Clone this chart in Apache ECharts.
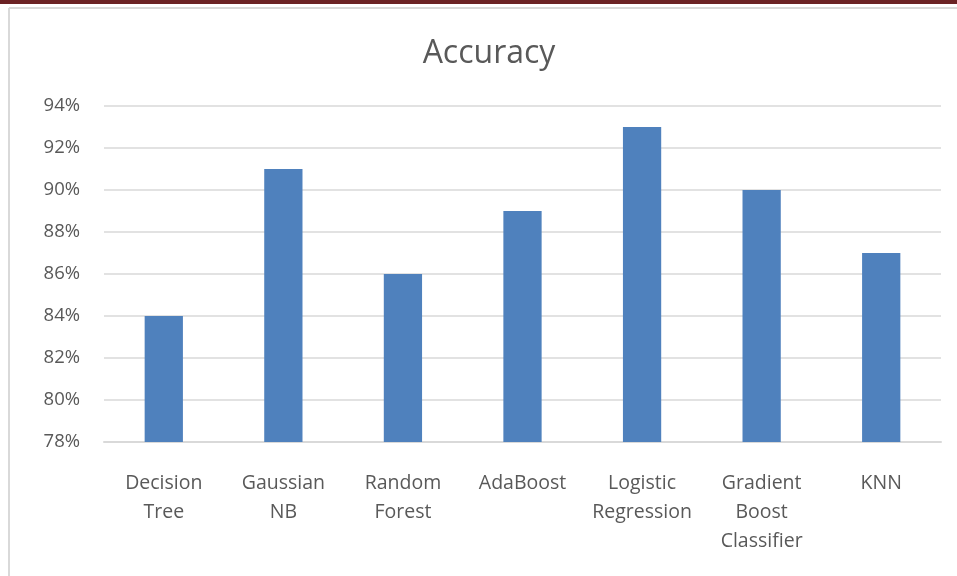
<!DOCTYPE html>
<html>
<head>
<meta charset="utf-8">
<script src="https://cdn.jsdelivr.net/npm/echarts@6/dist/echarts.min.js"></script>
<style>
html,body{margin:0;padding:0;background:#fff;}
#chart{width:957px;height:576px;}
</style>
</head>
<body>
<div id="chart"></div>
<script>
var categories = ['Decision\nTree', 'Gaussian\nNB', 'Random\nForest', 'AdaBoost', 'Logistic\nRegression', 'Gradient\nBoost\nClassifier', 'KNN'];
var accuracy = [84, 91, 86, 89, 93, 90, 87];
var chartTitle = 'Accuracy';
var yMin = 78, yMax = 94, yStep = 2;

var chart = echarts.init(document.getElementById('chart'));
chart.setOption({
  animation: false,
  backgroundColor: '#ffffff',
  graphic: [
    { type: 'rect', shape: { x: 0, y: 0, width: 957, height: 4 }, style: { fill: '#6b2224' }, silent: true },
    { type: 'line', shape: { x1: 9, y1: 8, x2: 957, y2: 8 }, style: { stroke: '#d9d9d9', lineWidth: 2 }, silent: true },
    { type: 'line', shape: { x1: 9, y1: 8, x2: 9, y2: 576 }, style: { stroke: '#d9d9d9', lineWidth: 2 }, silent: true }
  ],
  title: {
    text: chartTitle,
    left: 484,
    top: 33,
    textAlign: 'center',
    textStyle: { fontFamily: 'Open Sans', fontSize: 32, fontWeight: 'normal', color: '#595959' }
  },
  grid: { left: 104, right: 16, top: 106, bottom: 134, containLabel: false },
  xAxis: {
    type: 'category',
    data: categories,
    axisLine: { show: true, lineStyle: { color: '#d9d9d9', width: 2 } },
    axisTick: { show: false },
    axisLabel: {
      interval: 0,
      margin: 27,
      fontFamily: 'Open Sans',
      fontSize: 19.5,
      lineHeight: 29,
      color: '#595959'
    }
  },
  yAxis: {
    type: 'value',
    min: yMin,
    max: yMax,
    interval: yStep,
    axisLine: { show: false },
    axisTick: { show: false },
    splitLine: { lineStyle: { color: '#d9d9d9', width: 1.5 } },
    axisLabel: {
      margin: 24,
      fontFamily: 'Open Sans',
      fontSize: 18.5,
      color: '#595959',
      formatter: function (v) { return v + '%'; }
    }
  },
  series: [{
    type: 'bar',
    data: accuracy,
    barWidth: '32%',
    itemStyle: { color: '#4f81bd' }
  }]
});
</script>
</body>
</html>
